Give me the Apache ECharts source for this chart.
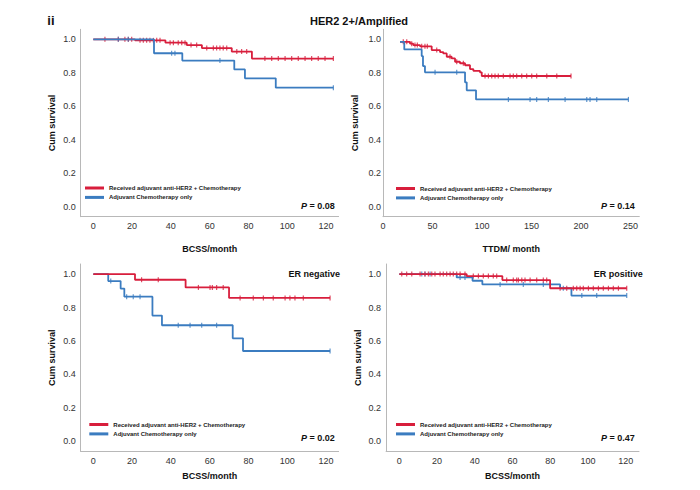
<!DOCTYPE html>
<html><head><meta charset="utf-8">
<script src="https://cdn.jsdelivr.net/npm/echarts@6/dist/echarts.min.js"></script>
<style>html,body{margin:0;padding:0;background:#fff}#c{width:700px;height:490px}</style>
</head><body><div id="c"></div>
<script>
const FONT = "'Liberation Sans', Arial, Helvetica, sans-serif";
const RED = '#d81e3c', BLUE = '#3b7cc0';

const legendNames = ['Received adjuvant anti-HER2 + Chemotherapy', 'Adjuvant Chemotherapy only'];
const mainTitle = 'HER2 2+/Amplified';
const panelTag = 'ii';
const yTicks = [0, 0.2, 0.4, 0.6, 0.8, 1.0];
const xTicksBCSS = [0, 20, 40, 60, 80, 100, 120];
const xTicksTTDM = [0, 50, 100, 150, 200, 250];
const xNames = ['BCSS/month', 'TTDM/ month', 'BCSS/month', 'BCSS/month'];
const pValues = ['0.08', '0.14', '0.02', '0.47'];
const subgroupLabels = ['', '', 'ER negative', 'ER positive'];

// Panel 1: BCSS, HER2 2+/Amplified
const p1RedT = [0, 21.5, 37.2, 48.2, 56, 71.4, 81.8, 123.8];
const p1RedS = [1.0, 0.994, 0.98, 0.966, 0.948, 0.927, 0.885, 0.885];
const p1RedC = [6.0, 12.9, 16.3, 18.1, 19.8, 24.1, 25.8, 27.5, 29.2, 31.0, 32.7, 34.4, 39.6, 41.3, 43.8, 45.6, 47.3, 50.4, 53.3, 58.5, 61.9, 63.6, 65.3, 67.0, 68.8, 74.0, 76.5, 79.1, 88.5, 92.0, 95.4, 98.9, 102.3, 105.7, 109.2, 112.6, 116.0, 119.5, 123.8];
const p1BlueT = [0, 31.3, 45.9, 72.7, 78.2, 94.1, 123.8];
const p1BlueS = [1.0, 0.917, 0.873, 0.82, 0.767, 0.711, 0.711];
const p1BlueC = [12.9, 18.0, 40.4, 42.1, 65.3, 123.8];

// Panel 2: TTDM
const p2RedT = [17.2, 27.3, 30.6, 37.4, 49.2, 57.6, 60.9, 64.4, 69.4, 72.8, 77.8, 82.9, 87.9, 91.3, 98.0, 99.8, 190];
const p2RedS = [0.985, 0.974, 0.966, 0.958, 0.936, 0.924, 0.916, 0.896, 0.886, 0.866, 0.857, 0.845, 0.822, 0.812, 0.803, 0.781, 0.781];
const p2RedC = [20.5, 24, 29, 32.3, 34.7, 39.1, 42.4, 44.8, 54.3, 67.7, 74.5, 81.2, 103.1, 106.5, 109.9, 113.2, 116.5, 121.6, 128.4, 131.7, 135.1, 140.2, 145.2, 150.3, 155.3, 165.5, 175.6, 190];
const p2BlueT = [17.2, 21.5, 39.1, 40.4, 42.4, 82.9, 84.6, 94, 248];
const p2BlueS = [0.985, 0.94, 0.9, 0.84, 0.803, 0.743, 0.695, 0.641, 0.641];
const p2BlueC = [52.6, 74.5, 126.7, 148.6, 155.3, 167.1, 184, 205.9, 209.2, 216, 248];

// Panel 3: ER negative, BCSS
const p3RedT = [0, 21.5, 47.6, 70, 122.1];
const p3RedS = [1.0, 0.966, 0.92, 0.857, 0.857];
const p3RedC = [24.9, 33.5, 54.2, 60.2, 61.4, 63.6, 67.0, 75.7, 82.5, 87.7, 92.8, 98.9, 101.4, 104, 108.3, 122.1];
const p3BlueT = [0, 7.7, 14.1, 16, 30.5, 35.4, 71.9, 77.2, 122.1];
const p3BlueS = [1.0, 0.958, 0.913, 0.865, 0.752, 0.694, 0.616, 0.54, 0.54];
const p3BlueC = [9.0, 17.2, 20.6, 24.1, 43.8, 49.9, 55.9, 63.6, 122.1];

// Panel 4: ER positive, BCSS
const p4RedT = [0, 35.7, 54.6, 79.9, 120.5];
const p4RedS = [1.0, 0.988, 0.964, 0.915, 0.915];
const p4RedC = [1.3, 3.9, 6.6, 11.0, 13.6, 15.4, 17.2, 18.9, 21.6, 23.3, 25.1, 26.9, 28.6, 30.4, 32.2, 34.8, 39.2, 41.9, 44.5, 47.2, 49.8, 51.6, 56.9, 60.4, 62.2, 63.1, 64.9, 66.6, 69.3, 72.8, 76.3, 78.1, 85.2, 88.7, 92.2, 94.0, 95.8, 97.5, 100.2, 102.8, 105.5, 108.1, 110.8, 113.4, 116.1, 120.5];
const p4BlueT = [0, 30.4, 38.8, 44, 85.2, 91.2, 120.5];
const p4BlueS = [1.0, 0.98, 0.96, 0.938, 0.915, 0.871, 0.871];
const p4BlueC = [11.9, 13.6, 16.3, 32.2, 34.8, 53.4, 65.7, 76.3, 86.9, 96.7, 104.6, 120.5];

const panels = [
  {red: [p1RedT, p1RedS, p1RedC], blue: [p1BlueT, p1BlueS, p1BlueC], ticks: xTicksBCSS, redOnTop: false},
  {red: [p2RedT, p2RedS, p2RedC], blue: [p2BlueT, p2BlueS, p2BlueC], ticks: xTicksTTDM, redOnTop: false},
  {red: [p3RedT, p3RedS, p3RedC], blue: [p3BlueT, p3BlueS, p3BlueC], ticks: xTicksBCSS, redOnTop: true},
  {red: [p4RedT, p4RedS, p4RedC], blue: [p4BlueT, p4BlueS, p4BlueC], ticks: xTicksBCSS, redOnTop: true}
];

// layout (positions/styles only)
const layout = [
  {grid: {left: 80.7, top: 29.3, width: 257.9, height: 187.4}, xmin: -6.5, xmax: 126.5, xGap: 28, legend: {left: 85, top: 184.5}, pX: 334.7, pY: 206, sX: 340, sY: 274, yLabMargin: 5},
  {grid: {left: 383, top: 29.3, width: 256.3, height: 187.4}, xmin: 0, xmax: 259, xGap: 28, legend: {left: 396, top: 185}, pX: 634.7, pY: 206, sX: 640, sY: 274, yLabMargin: 2},
  {grid: {left: 80.7, top: 264, width: 257.9, height: 187.4}, xmin: -6.5, xmax: 126.5, xGap: 20, legend: {left: 89.3, top: 421}, pX: 334.7, pY: 438.3, sX: 340, sY: 274, yLabMargin: 5},
  {grid: {left: 386.1, top: 264, width: 252.9, height: 187.4}, xmin: -7, xmax: 127, xGap: 20, legend: {left: 396, top: 421}, pX: 634.7, pY: 438.3, sX: 642.7, sY: 274, yLabMargin: 5}
];

function survAt(T, S, t) {
  let s = S[0];
  for (let i = 0; i < T.length; i++) { if (T[i] <= t) s = S[i]; }
  return s;
}

const grids = [], xAxes = [], yAxes = [], series = [], legends = [], graphics = [];
const axisLineStyle = {color: '#b8b8b8', width: 1};

panels.forEach((p, i) => {
  const L = layout[i];
  grids.push(Object.assign({containLabel: false, outerBoundsMode: 'none'}, L.grid));
  xAxes.push({
    gridIndex: i, type: 'value', min: L.xmin, max: L.xmax,
    axisLine: {show: true, onZero: false, lineStyle: axisLineStyle},
    axisTick: {show: false}, splitLine: {show: false},
    axisLabel: {customValues: p.ticks, color: '#333', fontSize: 9, fontFamily: FONT, margin: 5,
      formatter: v => String(v)},
    name: xNames[i], nameLocation: 'middle', nameGap: L.xGap,
    nameTextStyle: {fontWeight: 'bold', fontSize: 9, color: '#111', fontFamily: FONT}
  });
  yAxes.push({
    gridIndex: i, type: 'value', min: -0.06, max: 1.06,
    axisLine: {show: true, onZero: false, lineStyle: axisLineStyle},
    axisTick: {show: false}, splitLine: {show: false},
    axisLabel: {customValues: yTicks, color: '#333', fontSize: 9, fontFamily: FONT, margin: L.yLabMargin,
      formatter: v => v.toFixed(1)},
    name: 'Cum survival', nameLocation: 'middle', nameGap: 24,
    nameTextStyle: {fontWeight: 'bold', fontSize: 9, color: '#111', fontFamily: FONT}
  });
  const mk = (grp, color, name) => {
    const [T, S, C] = grp;
    return [
      {type: 'line', name: name, xAxisIndex: i, yAxisIndex: i, step: 'end', symbol: 'none', showSymbol: false,
        silent: true, animation: false, lineStyle: {color: color, width: 1.8}, itemStyle: {color: color},
        data: T.map((t, k) => [t, S[k]])},
      {type: 'scatter', name: name + ' censored', xAxisIndex: i, yAxisIndex: i, symbol: 'rect', symbolSize: [1.2, 5],
        silent: true, animation: false, itemStyle: {color: color},
        data: C.map(t => [t, survAt(T, S, t)])}
    ];
  };
  const r = mk(p.red, RED, legendNames[0]);
  const b = mk(p.blue, BLUE, legendNames[1]);
  if (p.redOnTop) series.push(...b, ...r); else series.push(...r, ...b);

  legends.push({
    data: legendNames, left: L.legend.left, top: L.legend.top, orient: 'vertical', icon: 'rect',
    itemWidth: 19, itemHeight: 3, itemGap: 2.4, padding: 0, selectedMode: false,
    textStyle: {fontSize: 6, fontWeight: 'bold', color: '#222', fontFamily: FONT, lineHeight: 7}
  });
  graphics.push({
    type: 'text', x: L.pX, y: L.pY, silent: true,
    style: {text: '{i|P} = ' + pValues[i], align: 'right', verticalAlign: 'middle',
      font: 'bold 9px ' + FONT, fill: '#111',
      rich: {i: {fontStyle: 'italic', fontWeight: 'bold', fontSize: 9, fontFamily: FONT, fill: '#111'}}}
  });
  if (subgroupLabels[i]) {
    graphics.push({type: 'text', x: L.sX, y: L.sY, silent: true,
      style: {text: subgroupLabels[i], align: 'right', verticalAlign: 'middle', font: 'bold 9px ' + FONT, fill: '#111'}});
  }
});

graphics.push({type: 'text', x: 47.3, y: 20.7, silent: true,
  style: {text: panelTag, align: 'left', verticalAlign: 'middle', font: 'bold 13px ' + FONT, fill: '#111'}});
graphics.push({type: 'text', x: 359, y: 21, silent: true,
  style: {text: mainTitle, align: 'center', verticalAlign: 'middle', font: 'bold 11px ' + FONT, fill: '#111'}});

const chart = echarts.init(document.getElementById('c'), null, {renderer: 'svg', width: 700, height: 490});
chart.setOption({
  backgroundColor: '#fff', animation: false,
  textStyle: {fontFamily: FONT},
  grid: grids, xAxis: xAxes, yAxis: yAxes, series: series, legend: legends, graphic: graphics
});
</script></body></html>
